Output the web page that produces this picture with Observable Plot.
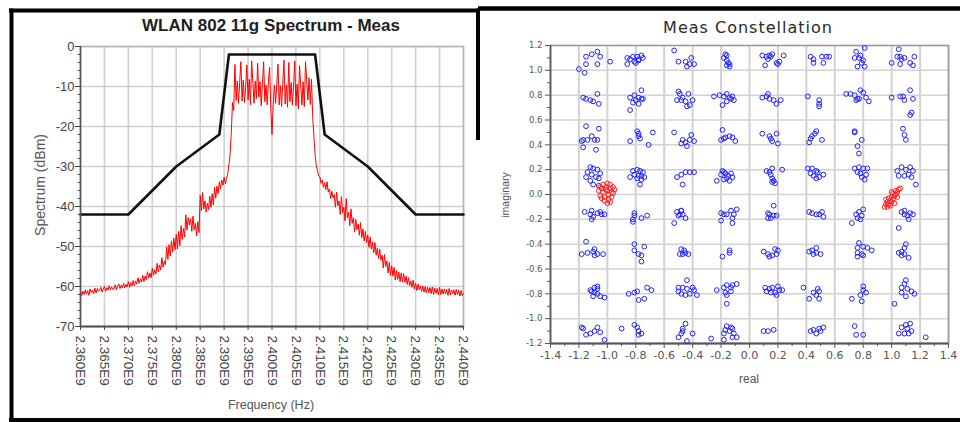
<!DOCTYPE html>
<html><head><meta charset="utf-8">
<script src="https://cdn.jsdelivr.net/npm/d3@7"></script>
<script src="https://cdn.jsdelivr.net/npm/@observablehq/plot@0.6"></script>
<style>
html,body{margin:0;padding:0;background:#fff;}
#wrap{position:relative;width:960px;height:422px;overflow:hidden;background:#fff;font-family:"Liberation Sans",Arial,sans-serif;}
#left,#right{position:absolute;top:0;width:480px;height:422px;}
#left{left:0;} #right{left:480px;}
#overlay{position:absolute;left:0;top:0;pointer-events:none;}
</style></head><body>
<div id="wrap">
<div id="left"></div><div id="right"></div>
<svg id="overlay" width="960" height="422" font-family="Liberation Sans, Arial, sans-serif">
  <line x1="9" y1="10.5" x2="480" y2="10.5" stroke="#000" stroke-width="4"/>
  <line x1="478" y1="8.5" x2="960" y2="8.5" stroke="#000" stroke-width="4.5"/>
  <line x1="11.5" y1="8.5" x2="11.5" y2="422" stroke="#000" stroke-width="4"/>
  <line x1="9" y1="420" x2="960" y2="420" stroke="#000" stroke-width="4"/>
  <line x1="478" y1="8.5" x2="478" y2="140" stroke="#000" stroke-width="4"/>
  <text x="271" y="31" text-anchor="middle" font-weight="bold" font-size="17" fill="#1e1e1e">WLAN 802 11g Spectrum - Meas</text>
  <text x="748" y="33" text-anchor="middle" font-family="DejaVu Sans" font-size="16" letter-spacing="1" fill="#2a2a2a">Meas Constellation</text>
  <text transform="translate(45,185) rotate(-90)" text-anchor="middle" font-size="14" fill="#555">Spectrum (dBm)</text>
  <text x="271" y="409" text-anchor="middle" font-size="12.5" fill="#555">Frequency (Hz)</text>
  <text transform="translate(509,195) rotate(-90)" text-anchor="middle" font-size="10.5" fill="#555">imaginary</text>
  <text x="749" y="383" text-anchor="middle" font-size="12" fill="#555">real</text>
</svg>
</div>
<script>
// ---------- Spectrum panel data ----------
const freqTicks = [2.360e9,2.365e9,2.370e9,2.375e9,2.380e9,2.385e9,2.390e9,2.395e9,2.400e9,2.405e9,2.410e9,2.415e9,2.420e9,2.425e9,2.430e9,2.435e9,2.440e9];
const dbTicks = [0,-10,-20,-30,-40,-50,-60,-70];
const maskHz = [2.360e9,2.370e9,2.380e9,2.389e9,2.391e9,2.409e9,2.411e9,2.420e9,2.430e9,2.440e9];
const maskDb = [-42,-42,-30,-22,-2,-2,-22,-30,-42,-42];
const specStartHz = 2.360e9;
const specStepHz = 0.25e6;
const specDb = [
-61.0,-62.3,-61.2,-62.0, -60.8,-61.9,-61.0,-62.2, -60.6,-61.5,-60.9,-61.8, -60.4,-61.6,-60.5,-61.2,
-60.9,-60.2,-61.4,-60.6, -60.0,-61.2,-60.3,-60.9, -59.8,-60.9,-60.1,-60.7, -60.6,-59.6,-60.8,-59.9,
-59.4,-60.5,-59.7,-60.4, -59.2,-60.3,-59.5,-60.1, -58.8,-60.2,-59.0,-59.9, -58.5,-59.8,-58.6,-59.4,
-57.8,-59.2,-58.1,-58.9, -57.2,-58.8,-57.4,-58.3, -56.3,-57.9,-56.6,-57.8, -55.4,-57.2,-55.8,-56.9,
-54.2,-56.3,-54.6,-55.9, -52.8,-55.2,-53.6,-54.6, -50.1,-53.2,-49.5,-52.4, -48.6,-51.4,-47.9,-50.8,
-47.0,-50.6,-46.2,-49.8, -44.8,-48.2,-45.5,-47.6, -42.1,-45.9,-42.8,-44.6, -43.0,-46.2,-42.4,-45.8,
-44.2,-47.4,-43.8,-46.5, -37.2,-41.0,-36.5,-40.6, -38.6,-41.4,-39.2,-40.8, -37.4,-40.2,-36.8,-39.6,
-35.2,-37.9,-34.9,-36.8, -33.8,-35.6,-33.4,-34.7, -32.7,-34.3,-33.0,-31.8, -29.5,-27.0,-21.5,-14.0,
-16.0,-4.5,-13.5,-8.6, -14.2,-9.0,-3.8,-13.6, -8.4,-14.0,-10.2,-4.6, -13.4,-8.2,-14.6,-3.6,
-9.0,-14.2,-8.6,-13.0, -4.2,-12.6,-8.8,-14.8, -9.2,-3.8,-13.8,-9.6, -14.6,-8.8,-5.2,-15.5,
-22.0,-14.8,-9.6,-14.2, -9.4,-4.4,-14.6,-9.8, -15.0,-9.2,-3.4,-14.4, -9.6,-15.2,-4.0,-13.8,
-9.0,-14.6,-10.0,-3.6, -14.8,-9.4,-15.6,-4.8, -9.8,-14.6,-8.8,-15.0, -3.8,-8.6,-13.4,-7.8,
-14.5,-8.2,-17.5,-22.5, -27.0,-29.8,-31.0,-32.3, -32.6,-34.2,-33.4,-35.2, -34.0,-35.8,-33.8,-36.4,
-35.6,-38.0,-36.2,-37.8, -37.0,-40.2,-36.4,-39.8, -38.6,-42.0,-37.5,-41.5, -40.2,-43.6,-38.0,-42.8,
-41.4,-44.8,-40.6,-44.2, -42.8,-46.4,-43.2,-45.8, -44.4,-47.2,-44.0,-47.8, -45.6,-48.6,-46.2,-49.0,
-47.2,-50.2,-47.6,-50.6, -48.8,-51.6,-49.0,-52.2, -50.4,-53.0,-50.6,-53.4, -52.2,-55.4,-52.0,-55.0,
-53.6,-56.6,-54.0,-57.2, -54.8,-57.4,-55.2,-58.4, -56.0,-58.2,-56.4,-58.8, -56.6,-58.9,-56.8,-59.0,
-57.4,-59.5,-57.8,-59.8, -58.6,-60.2,-58.4,-60.6, -59.2,-61.0,-59.4,-60.8, -59.8,-61.2,-59.9,-61.4,
-60.0,-61.6,-60.2,-61.5, -60.3,-61.8,-60.1,-62.0, -60.4,-61.7,-60.5,-62.1, -60.2,-62.0,-60.6,-61.9,
-60.6,-61.8,-60.7,-62.2, -60.5,-62.1,-60.9,-61.8, -60.8,-62.2,-60.7,-62.0, -60.9,-62.4,-61.0,-62.3,
-61.8
];

// ---------- Constellation panel data ----------
const reTicks = [-1.4,-1.2,-1.0,-0.8,-0.6,-0.4,-0.2,0.0,0.2,0.4,0.6,0.8,1.0,1.2,1.4];
const imTicks = [-1.2,-1.0,-0.8,-0.6,-0.4,-0.2,0.0,0.2,0.4,0.6,0.8,1.0,1.2];
const iLevels = [-1.08,-0.77,-0.46,-0.15,0.15,0.46,0.77,1.08];
const qLevels = [1.08,0.77,0.46,0.15,-0.15,-0.46,-0.77,-1.08];
// measured scatter of each symbol cluster, offsets in hundredths (row by row, left to right)
const clusterOffsets = [
"-7,3 -3,5 1,7 3,3 10,-1 1,-3 -7,-3 -12,-7 -8,-10",
"-9,2 -5,3 -2,3 1,4 -1,0 -4,-1 -3,-2 -9,-3 -7,1 -1,1 2,2",
"-7,8 -4,-1 1,-1 5,2 4,-3 7,-3 2,-5",
"-2,5 -1,4 -3,2 -1,0 0,-2 1,-3 -1,-4 1,-5",
"-6,4 -3,3 -1,4 1,5 0,3 -2,1 4,-2 6,-1 5,-3 9,4 -4,-4",
"-3,3 -1,1 -1,-2 5,3 8,3 10,3 6,-2",
"4,10 -2,7 1,4 -3,2 0,2 3,0 2,-2 -1,-5 4,-5",
"-3,9 -4,3 -2,3 -1,1 1,2 -8,-2 -2,-3 5,-2 8,3 7,-4",

"-9,1 -7,0 -4,-1 -2,-2 1,4 2,-4",
"1,7 -4,3 -1,1 -7,1 -3,-1 1,0 -5,-3 -1,-4 -7,-9 2,0",
"-4,6 -3,4 -5,-1 -2,-1 -1,1 3,4 1,-2 4,-5 2,-6 6,-1",
"-10,2 -6,3 -3,2 -1,4 1,1 2,0 4,-1 -1,-2 -4,-5 3,2",
"-6,1 -3,2 -2,4 -1,0 2,-1 4,-4 7,-1",
"-5,2 3,-1 3,-4 3,-6",
"-9,4 -6,4 -3,3 1,7 3,5 -1,0 -2,-1 0,0 7,-2 5,1",
"-8,1 -2,2 0,2 1,-1 5,7 7,0 5,-13 6,-11",

"-7,9 2,7 -3,1 -9,-2 -10,-3 -6,-2 -1,-2 1,-2 -9,-8 0,-10",
"-2,5 -1,3 -1,1 0,-1 -7,-3 9,4 6,-6",
"-7,4 5,2 4,-2 7,-3 1,-4 -2,-5 2,-7 -1,-2",
"-4,6 -5,-2 -2,0 1,1 3,0 5,-3 -3,-1",
"-6,3 -1,1 4,3 0,-1 1,-3 5,-5",
"1,5 0,3 -2,1 -3,-1 -4,-4 5,-2",
"-3,5 -3,4 2,-2 -1,-7 0,-13",
"0,7 1,2 2,-2",

"-4,7 -2,6 1,5 3,2 -6,3 -3,1 0,-1 -7,-1 2,-2 -4,-4 -2,-7 2,-8",
"-5,4 -2,5 0,4 2,3 -4,1 -1,0 1,0 3,-1 -7,-1 -2,-2 1,-3 0,-7",
"-5,-1 -2,1 1,3 4,3 7,3 -1,-7",
"-4,4 -3,3 -5,1 -2,2 0,0 2,2 3,-1 -3,-3 1,-4 -1,-2 -8,-4",
"-3,4 1,6 -1,3 0,1 1,-2 2,-4 1,-5 3,-6 8,5",
"-5,6 -2,6 1,4 2,3 -3,2 -1,0 3,-1 6,1 1,-2",
"-3,6 0,7 3,6 6,6 -1,3 1,2 5,1 2,-1 4,-3",
"-4,4 -1,7 2,5 5,7 7,4 -3,0 1,0 4,1 6,-1 9,-7",

"-8,1 -3,2 1,0 4,-1 -4,-1 -2,-3 -3,-5 3,1 6,-1",
"-4,0 -4,-2 -5,-5 -5,-7 1,-4 5,-2",
"-5,1 -2,2 -3,-1 -7,-8 -4,-2 -1,-1 1,-4 -2,2",
"-5,0 -3,-1 -1,-1 2,2 6,3 4,-1 3,-4 -5,-6 3,-8",
"2,6 -2,0 -1,-1 2,-2 4,-2 0,-4 -2,-4",
"-4,1 -2,0 1,-1 5,1 6,-3 3,-1",
"3,3 0,1 -2,-1 2,-2 -1,-4 -5,-8 1,-5",
"-1,1 1,2 5,0 7,-1 3,-2 4,-5 -3,-12 1,-1",

"-7,8 -10,-2 -6,-1 -2,0 -1,2 1,-2 5,-2 -1,-3",
"-4,6 -4,1 -1,-2 1,-3 1,-8 3,4",
"-2,2 -1,-2 0,1 1,-1 3,-2 -3,-2",
"-4,-4 1,-1 1,1",
"-5,0 -2,-2 -1,-4 1,-3 3,2 5,1 4,-2",
"-4,0 -2,1 1,3 1,-1 4,-2 -1,-2",
"0,7 -1,3 3,4 6,3 9,1 -1,-1 2,-2 -1,-4 3,-3",
"2,6 1,3 -3,-1 -1,0 1,-2 4,-5 -1,-3",

"-4,0 -1,2 1,1 -1,-2 1,-3 3,-5 6,-6 -2,-5 -3,-1 1,3",
"-8,-3 -4,-2 -2,-1 -1,-8 3,-7 5,2 8,0",
"2,8 -4,2 -1,2 2,1 6,2 7,0 -2,-3 1,-4 4,-3 9,-4 -4,-1",
"-8,0 -3,2 -1,4 3,4 6,5 2,2 -2,-2 -1,-4 2,-1 -1,-11",
"-4,2 -1,1 1,2 5,3 6,0 8,0 -3,-1 0,-2 3,-2 4,-4",
"-8,2 -1,-2 2,1 3,-1 1,-4 -4,-7 3,-7",
"3,3 3,0 1,-4 5,-2 -5,-7 2,-9",
"2,8 1,5 -1,2 3,1 6,-1 8,-3 -1,-2 2,-5 -6,-11",

"-10,1 -9,0 -7,-5 -4,-4 -1,-2 1,1 3,-3 6,-9",
"-13,0 -4,3 -2,1 -1,-2 1,-4 -1,-5",
"1,4 -1,0 -1,-2 -4,-7 2,-10 6,-4 -2,-4",
"-1,2 2,1 3,0 -2,-1 1,-2 4,-4 6,-7 -3,-4 3,-7 -12,-8 -3,-9",
"-5,-2 -2,-2 2,-1",
"-3,-2 -1,-1 1,-4 3,0 6,1 4,-2",
"-3,2 -2,-5 3,-5",
"-1,1 2,3 5,4 3,0 -3,-4 1,-4 4,-4 6,-2 16,-7"
];
const pilotRe = [-1.06,-1.05,-1.04,-1.03,-1.02,-1.01,-1.00,-0.99,-0.98,-0.97,-0.96,-1.03,-1.00,-0.98,-1.02,-0.99,-1.00,-1.04,-0.97,-0.95,-1.01,-0.98,-1.05,-0.96,
                 0.95,0.96,0.97,0.97,0.98,0.99,0.98,1.00,1.00,1.01,1.02,1.01,1.03,1.03,1.04,1.05,1.04,0.99,1.02,0.96,1.06,1.00];
const pilotIm = [0.03,-0.01,0.05,0.02,-0.02,0.06,0.03,0.00,0.05,0.02,0.06,0.08,0.09,0.08,-0.05,-0.04,-0.07,-0.03,-0.02,0.04,0.04,-0.06,0.06,0.01,
                 -0.10,-0.08,-0.10,-0.06,-0.08,-0.05,-0.03,-0.06,-0.02,-0.04,-0.01,0.01,0.00,0.03,0.02,0.04,-0.02,-0.09,-0.07,-0.04,0.05,0.02];

// ---------- build tables ----------
const spectrum = specDb.map((v, i) => ({f: specStartHz + i * specStepHz, db: v}));
const mask = maskHz.map((f, i) => ({f, db: maskDb[i]}));
const symbols = [];
clusterOffsets.forEach((s, k) => {
  const I = iLevels[k % 8], Q = qLevels[Math.floor(k / 8)];
  s.trim().split(/\s+/).forEach(p => {
    const [dx, dy] = p.split(",").map(Number);
    symbols.push({re: I + dx / 100, im: Q + dy / 100});
  });
});
const pilots = pilotRe.map((r, i) => ({re: r, im: pilotIm[i]}));

const dbMinor = d3.range(-68, 0, 2).filter(d => d % 10 !== 0);
const reMinor = d3.range(-13, 14, 2).map(d => d / 10);
const imMinor = d3.range(-11, 12, 2).map(d => d / 10);

const FONT = '"Liberation Sans", Arial, sans-serif';

const left = Plot.plot({
  width: 480, height: 422,
  marginLeft: 80, marginRight: 17, marginTop: 46, marginBottom: 96,
  style: {fontFamily: FONT, background: "transparent", overflow: "visible"},
  x: {type: "linear", domain: [freqTicks[0], freqTicks[freqTicks.length - 1]]},
  y: {domain: [dbTicks[dbTicks.length - 1], dbTicks[0]]},
  marks: [
    Plot.gridX(freqTicks, {stroke: "#cfcfcf", strokeOpacity: 1, strokeWidth: 1.6}),
    Plot.gridY(dbTicks, {stroke: "#cfcfcf", strokeOpacity: 1, strokeWidth: 1.3}),
    Plot.frame({stroke: "#b4b4b4", strokeWidth: 1.5}),
    Plot.line(spectrum, {x: "f", y: "db", stroke: "#ff0000", strokeWidth: 1}),
    Plot.line(mask, {x: "f", y: "db", stroke: "#111", strokeWidth: 2.6}),
    Plot.ruleX([freqTicks[0]], {stroke: "#555", strokeWidth: 1.5}),
    Plot.ruleY([dbTicks[dbTicks.length - 1]], {stroke: "#555", strokeWidth: 1.8}),
    Plot.axisY(dbTicks, {tickSize: 5, tickPadding: 1, fontSize: 13, color: "#444", label: null, tickFormat: d => String(d)}),
    Plot.axisY(dbMinor, {tickSize: 2.5, color: "#555", label: null, tickFormat: () => ""}),
    Plot.axisX(freqTicks, {tickSize: 4, tickRotate: 90, textAnchor: "start", lineAnchor: "middle", tickPadding: 5,
      fontSize: 13.5, color: "#444", label: null, tickFormat: d => (d / 1e9).toFixed(3) + "E9"})
  ]
});
document.getElementById("left").appendChild(left);

const right = Plot.plot({
  width: 480, height: 422,
  marginLeft: 70, marginRight: 12, marginTop: 45, marginBottom: 79,
  style: {fontFamily: FONT, background: "transparent", overflow: "visible"},
  x: {domain: [reTicks[0], reTicks[reTicks.length - 1]]},
  y: {domain: [imTicks[0], imTicks[imTicks.length - 1]]},
  marks: [
    Plot.gridX(reTicks, {stroke: "#d2d2d2", strokeOpacity: 1, strokeWidth: 2}),
    Plot.gridY(imTicks, {stroke: "#d2d2d2", strokeOpacity: 1, strokeWidth: 1.5}),
    Plot.frame({stroke: "#9a9a9a", strokeWidth: 1.5}),
    Plot.ruleX([reTicks[0]], {stroke: "#555", strokeWidth: 1.5}),
    Plot.ruleY([imTicks[0]], {stroke: "#555", strokeWidth: 2}),
    Plot.dot(symbols, {x: "re", y: "im", r: 2.4, stroke: "#2222ff", strokeWidth: 1, fill: "none"}),
    Plot.dot(pilots, {x: "re", y: "im", r: 2.4, stroke: "#ff2020", strokeWidth: 1, fill: "none"}),
    Plot.axisY(imTicks, {tickSize: 5, tickPadding: 3, fontSize: 8.5, fontFamily: "DejaVu Sans", color: "#555", label: null, tickFormat: d => d.toFixed(1)}),
    Plot.axisY(imMinor, {tickSize: 3, color: "#555", label: null, tickFormat: () => ""}),
    Plot.axisX(reTicks, {tickSize: 5, tickPadding: 3, fontSize: 11, fontFamily: "DejaVu Sans", color: "#555", label: null, tickFormat: d => d.toFixed(1)}),
    Plot.axisX(reMinor, {tickSize: 3, color: "#555", label: null, tickFormat: () => ""})
  ]
});
document.getElementById("right").appendChild(right);
</script>
</body></html>
